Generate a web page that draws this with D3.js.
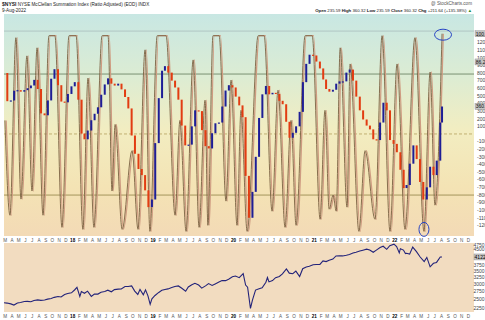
<!DOCTYPE html>
<html>
<head>
<meta charset="utf-8">
<script src="https://cdn.jsdelivr.net/npm/d3@7"></script>
<style>
  html, body { margin: 0; padding: 0; background: #fff; }
  svg { display: block; font-family: "Liberation Sans", Arial, sans-serif; }
</style>
</head>
<body>
<svg id="chart" width="485" height="320"></svg>
<script>
// ---- data ----
// NYSI (ratio adjusted), one value on the 1st and 16th of every month from Mar 2017
const nysiStart = "2017-03-01";
const nysiValues = [
  800, 430, 440, 567, 575, 555, 575, 600, 636, 710, 590, 270, 245, 440, 725, 850, 640, 425, 415, 525,
  625, 680, 450, 5, -70, 45, 180, 265, 350, 515, 650, 730, 660, 635, 660, 585, 485, 335, -20, -260,
  -460, -540, -740, -960, -860, -120, 470, 830, 890, 805, 700, 610, 450, 110, -150, -140, 100, 310, 300, 50,
  -160, -190, 10, 140, 150, 360, 570, 640, 610, 490, 375, 220, -550, -1100, -760, -300, 210, 520, 630, 520,
  540, 525, 435, 390, 160, -50, 15, 100, 290, 680, 920, 1040, 1030, 950, 860, 715, 590, 555, 580, 660,
  690, 690, 805, 845, 700, 490, 310, 190, 110, 60, -70, -80, 150, 410, 310, -80, -130, -240, -470, -710,
  -670, -390, -150, -330, -630, -860, -700, -430, -540, -350, 150
];
const nysiLastDate = "2022-08-09";
const nysiLastValue = 360.32;

// slow stochastic overlay, turning points (0-100)
const stochDates = [
  "2017-03-05", "2017-03-28", "2017-04-24", "2017-05-17", "2017-06-13", "2017-07-06", "2017-07-29", "2017-08-25",
  "2017-09-21", "2017-10-18", "2017-11-19", "2017-12-21", "2018-01-22", "2018-02-22", "2018-03-17", "2018-04-13",
  "2018-05-20", "2018-06-16", "2018-07-04", "2018-07-18", "2018-08-19", "2018-10-03", "2018-10-30", "2018-12-01",
  "2018-12-23", "2019-01-25", "2019-03-06", "2019-04-16", "2019-05-08", "2019-06-05", "2019-07-07", "2019-08-03",
  "2019-08-30", "2019-09-12", "2019-10-05", "2019-11-02", "2019-12-03", "2019-12-26", "2020-01-22", "2020-02-09",
  "2020-03-08", "2020-04-27", "2020-05-24", "2020-06-29", "2020-07-26", "2020-08-27", "2020-09-23", "2020-10-16",
  "2020-11-26", "2020-12-28", "2021-02-02", "2021-02-24", "2021-03-15", "2021-04-02", "2021-04-16", "2021-05-04",
  "2021-06-04", "2021-06-18", "2021-07-28", "2021-08-25", "2021-10-09", "2021-11-10", "2021-12-16", "2022-01-17",
  "2022-02-22", "2022-04-08", "2022-05-19", "2022-06-16", "2022-07-08", "2022-08-09"
];
const stochValues = [
  57, 10, 98, 18, 89, 22, 93, 10,
  99, 99, 4, 99, 99, 3, 78, 4,
  99, 99, 22, 55, 3, 42, 3, 92,
  2, 99, 99, 10, 57, 2, 87, 4,
  67, 5, 99, 99, 17, 77, 5, 62,
  2, 99, 99, 12, 72, 4, 57, 5,
  99, 99, 8, 62, 13, 20, 12, 93,
  14, 85, 2, 42, 8, 99, 2, 85,
  3, 98, 2, 81, 15, 100
];

// S&P 500 in the lower panel
const spxDates = [
  "2017-03-01", "2017-03-15", "2017-04-01", "2017-04-15", "2017-05-01", "2017-05-15", "2017-06-01", "2017-06-15",
  "2017-07-01", "2017-07-15", "2017-08-01", "2017-08-15", "2017-09-01", "2017-09-15", "2017-10-01", "2017-10-15",
  "2017-11-01", "2017-11-15", "2017-12-01", "2017-12-15", "2018-01-01", "2018-01-15", "2018-01-26", "2018-02-08",
  "2018-02-15", "2018-03-01", "2018-03-15", "2018-04-01", "2018-04-15", "2018-05-01", "2018-05-15", "2018-06-01",
  "2018-06-15", "2018-07-01", "2018-07-15", "2018-08-01", "2018-08-15", "2018-09-01", "2018-09-15", "2018-10-01",
  "2018-10-15", "2018-10-29", "2018-11-08", "2018-11-23", "2018-12-03", "2018-12-14", "2018-12-24", "2019-01-01",
  "2019-01-15", "2019-02-01", "2019-02-15", "2019-03-01", "2019-03-15", "2019-04-01", "2019-04-15", "2019-05-01",
  "2019-05-15", "2019-06-03", "2019-06-15", "2019-07-01", "2019-07-15", "2019-08-01", "2019-08-15", "2019-09-01",
  "2019-09-15", "2019-10-01", "2019-10-15", "2019-11-01", "2019-11-15", "2019-12-01", "2019-12-15", "2020-01-01",
  "2020-01-15", "2020-02-01", "2020-02-19", "2020-03-01", "2020-03-10", "2020-03-23", "2020-04-01", "2020-04-15",
  "2020-05-01", "2020-05-15", "2020-06-01", "2020-06-08", "2020-06-15", "2020-07-01", "2020-07-15", "2020-08-01",
  "2020-08-15", "2020-09-02", "2020-09-15", "2020-10-01", "2020-10-15", "2020-11-01", "2020-11-15", "2020-12-01",
  "2020-12-15", "2021-01-01", "2021-01-15", "2021-02-01", "2021-02-15", "2021-03-01", "2021-03-15", "2021-04-01",
  "2021-04-15", "2021-05-01", "2021-05-15", "2021-06-01", "2021-06-15", "2021-07-01", "2021-07-15", "2021-08-01",
  "2021-08-15", "2021-09-01", "2021-09-15", "2021-10-01", "2021-10-15", "2021-11-01", "2021-11-15", "2021-12-01",
  "2021-12-15", "2022-01-03", "2022-01-15", "2022-01-27", "2022-02-01", "2022-02-15", "2022-02-24", "2022-03-01",
  "2022-03-15", "2022-03-29", "2022-04-15", "2022-05-01", "2022-05-20", "2022-06-01", "2022-06-16", "2022-07-01",
  "2022-07-15", "2022-08-01", "2022-08-09"
];
const spxValues = [
  2395, 2385, 2362, 2330, 2388, 2402, 2430, 2433, 2423, 2459, 2476, 2464, 2476, 2500, 2519, 2553,
  2579, 2564, 2642, 2675, 2695, 2786, 2873, 2581, 2732, 2678, 2747, 2582, 2656, 2654, 2711, 2734,
  2780, 2726, 2798, 2813, 2818, 2901, 2904, 2924, 2750, 2641, 2806, 2632, 2790, 2599, 2351, 2510,
  2610, 2706, 2775, 2803, 2822, 2867, 2905, 2923, 2850, 2744, 2886, 2964, 3014, 2953, 2847, 2926,
  3007, 2940, 2995, 3066, 3120, 3113, 3168, 3257, 3289, 3225, 3386, 2954, 2882, 2237, 2470, 2783,
  2830, 2863, 3055, 3232, 3066, 3115, 3226, 3271, 3372, 3580, 3401, 3380, 3483, 3270, 3585, 3662,
  3694, 3756, 3768, 3773, 3934, 3901, 3968, 4019, 4170, 4181, 4173, 4202, 4246, 4319, 4360, 4419,
  4468, 4524, 4480, 4357, 4471, 4613, 4682, 4513, 4709, 4797, 4662, 4326, 4546, 4471, 4288, 4306,
  4262, 4631, 4392, 4132, 3901, 4101, 3667, 3825, 3863, 4118, 4122
];

const mainTicks = d3.range(1300, -1201, -100).filter(d => d !== 0);
const spxTicks = [4750, 4500, 3750, 3500, 3250, 3000, 2750, 2500, 2250];

// ---- setup ----
const W = 485, H = 320;
const L = 4, R = 474;
const mainTop = 14, mainBottom = 236, lowTop = 243, lowBottom = 312;
const parse = d3.utcParse("%Y-%m-%d");
const svg = d3.select("#chart");

const x = d3.scaleUtc()
  .domain([parse("2017-03-01"), parse("2023-01-01")])
  .range([L, R]);
const yMain = d3.scaleLinear().domain([-1200, 1300]).range([225.4, 34.9]);
const yOsc = d3.scaleLinear().domain([0, 100]).range([235.4, 33.7]);
const yLow = d3.scaleLog().domain([2250, 4750]).range([308, 245]);

const nysi = nysiValues.map((v, i) => {
  const m = d3.utcMonth.offset(parse(nysiStart), Math.floor(i / 2));
  return { date: i % 2 ? d3.utcDay.offset(m, 15) : m, value: v };
});
nysi.push({ date: parse(nysiLastDate), value: nysiLastValue });
const stoch = stochDates.map((d, i) => ({ date: parse(d), value: stochValues[i] }));
const spx = spxDates.map((d, i) => ({ date: parse(d), value: spxValues[i] }));

// ---- backgrounds ----
const defs = svg.append("defs");
const grad = defs.append("linearGradient").attr("id", "bgMain")
  .attr("x1", 0).attr("y1", 0).attr("x2", 0).attr("y2", 1);
[["0%", "#c8e7e3"], ["28%", "#dcecd3"], ["52%", "#f2edc1"], ["78%", "#f4e3b4"], ["100%", "#f3dab6"]]
  .forEach(([o, c]) => grad.append("stop").attr("offset", o).attr("stop-color", c));

defs.append("clipPath").attr("id", "clipMain").append("rect")
  .attr("x", L).attr("y", mainTop).attr("width", R - L).attr("height", mainBottom - mainTop);
defs.append("clipPath").attr("id", "clipLow").append("rect")
  .attr("x", L).attr("y", lowTop).attr("width", R - L).attr("height", lowBottom - lowTop);

svg.append("rect").attr("width", W).attr("height", H).attr("fill", "#fff");
svg.append("rect").attr("x", L).attr("y", mainTop).attr("width", R - L).attr("height", mainBottom - mainTop)
  .attr("fill", "url(#bgMain)");
svg.append("rect").attr("x", L).attr("y", lowTop).attr("width", R - L).attr("height", lowBottom - lowTop)
  .attr("fill", "#f2dcc0");

// ---- header ----
const hdr = svg.append("g").attr("font-size", "4.6px").attr("fill", "#222");
const t1 = hdr.append("text").attr("x", 2).attr("y", 6);
t1.append("tspan").attr("font-weight", "bold").attr("font-size", "5px").text("$NYSI");
t1.append("tspan").text(" NYSE McClellan Summation Index (Ratio Adjusted) (EOD) INDX");
hdr.append("text").attr("x", 2).attr("y", 12).text("9-Aug-2022");
hdr.append("text").attr("x", 472).attr("y", 5).attr("text-anchor", "end").attr("fill", "#555")
  .text("@ StockCharts.com");
const t2 = hdr.append("text").attr("x", 472).attr("y", 11.5).attr("text-anchor", "end").attr("font-size", "4.3px");
[["Open", " 235.59 "], ["High", " 360.32 "], ["Low", " 235.59 "], ["Close", " 360.32 "], ["Chg", " +211.64 (+135.38%) "]]
  .forEach(([k, v]) => {
    t2.append("tspan").attr("font-weight", "bold").text(k);
    t2.append("tspan").text(v);
  });
t2.append("tspan").attr("fill", "#2a8a2a").text("▲");

// ---- main panel ----
const gMain = svg.append("g").attr("clip-path", "url(#clipMain)");

gMain.append("line").attr("x1", L).attr("x2", R).attr("y1", yMain(1350)).attr("y2", yMain(1350))
  .attr("stroke", "#a9bdbd").attr("stroke-width", 0.8);
gMain.append("line").attr("x1", L).attr("x2", R).attr("y1", yOsc(80)).attr("y2", yOsc(80))
  .attr("stroke", "#6f8766").attr("stroke-width", 0.9);
gMain.append("line").attr("x1", L).attr("x2", R).attr("y1", yOsc(20)).attr("y2", yOsc(20))
  .attr("stroke", "#9c8c52").attr("stroke-width", 0.9);
gMain.append("line").attr("x1", L).attr("x2", R).attr("y1", yMain(0)).attr("y2", yMain(0))
  .attr("stroke", "#b4a25e").attr("stroke-width", 0.8).attr("stroke-dasharray", "3,2");

const oscLine = d3.line()
  .x(d => x(d.date))
  .y(d => yOsc(d.value))
  .curve(d3.curveMonotoneX);

// lighter signal strand sits a touch behind the darker one
gMain.append("path").datum(stoch).attr("d", oscLine)
  .attr("transform", "translate(1.3,0)")
  .attr("fill", "none").attr("stroke", "#cf9c82").attr("stroke-width", 1.3);
gMain.append("path").datum(stoch).attr("d", oscLine)
  .attr("fill", "none").attr("stroke", "#7b6142").attr("stroke-width", 0.9);

// NYSI as up/down bars between consecutive readings
gMain.selectAll(".nysi-bar")
  .data(nysi.slice(1).map((d, i) => ({ date: d.date, from: nysi[i].value, to: d.value })))
  .enter().append("rect")
  .attr("class", "nysi-bar")
  .attr("x", d => x(d.date) - 1)
  .attr("width", 2)
  .attr("y", d => yMain(Math.max(d.from, d.to)))
  .attr("height", d => Math.max(1.2, Math.abs(yMain(d.from) - yMain(d.to))))
  .attr("fill", d => d.to >= d.from ? "#1e1e96" : "#e23c12");

// annotation ellipses
const lastPt = stoch[stoch.length - 1];
svg.append("ellipse").attr("cx", x(lastPt.date) + 1).attr("cy", yOsc(lastPt.value) + 1)
  .attr("rx", 8.5).attr("ry", 5.5).attr("fill", "none").attr("stroke", "#2744c4").attr("stroke-width", 1);
const lowPt = stoch[stoch.length - 4];
svg.append("ellipse").attr("cx", x(lowPt.date)).attr("cy", yOsc(lowPt.value) - 2)
  .attr("rx", 5).attr("ry", 7).attr("fill", "none").attr("stroke", "#2744c4").attr("stroke-width", 1);

// right axis of main panel
const axMain = svg.append("g").attr("font-size", "5px").attr("fill", "#444");
axMain.selectAll("text").data(mainTicks).enter().append("text")
  .attr("x", 477).attr("y", d => yMain(d) + 1.8).text(d => d);

function marker(y, label) {
  svg.append("rect").attr("x", 475).attr("y", y - 3).attr("width", 12).attr("height", 6)
    .attr("fill", "#c4c4c4").attr("stroke", "#888").attr("stroke-width", 0.4);
  svg.append("text").attr("x", 475.8).attr("y", y + 1.8).attr("font-size", "5px").attr("fill", "#111")
    .text(label);
}
marker(yOsc(100), "100.00");
marker(yOsc(86), "86.21");
marker(yMain(nysiLastValue), "360.32");

// ---- lower panel ----
const gLow = svg.append("g").attr("clip-path", "url(#clipLow)");
gLow.append("path").datum(spx)
  .attr("d", d3.line().x(d => x(d.date)).y(d => yLow(d.value)))
  .attr("fill", "none").attr("stroke", "#23237a").attr("stroke-width", 1.1);

const axLow = svg.append("g").attr("font-size", "5px").attr("fill", "#444");
axLow.selectAll("text").data(spxTicks).enter().append("text")
  .attr("x", 473.5).attr("y", d => yLow(d) + 1.8).text(d => d);
svg.append("rect").attr("x", 474).attr("y", yLow(4122) - 3).attr("width", 11).attr("height", 6)
  .attr("fill", "#c4c4c4").attr("stroke", "#888").attr("stroke-width", 0.4);
svg.append("text").attr("x", 474.6).attr("y", yLow(4122) + 1.8).attr("font-size", "5px").text("4122");

// ---- month strips ----
const months = d3.utcMonths(parse("2017-03-01"), parse("2023-01-01"));
[241.6, 318.2].forEach(yy => {
  svg.append("g").selectAll("text").data(months).enter().append("text")
    .attr("x", d => x(d) + 1.2)
    .attr("y", yy)
    .attr("text-anchor", "middle")
    .attr("font-size", "4.6px")
    .attr("font-weight", d => d.getUTCMonth() === 0 ? "bold" : "normal")
    .attr("fill", d => d.getUTCMonth() === 0 ? "#000" : "#555")
    .text(d => d.getUTCMonth() === 0 ? d3.utcFormat("%y")(d) : d3.utcFormat("%b")(d)[0]);
});
</script>
</body>
</html>
